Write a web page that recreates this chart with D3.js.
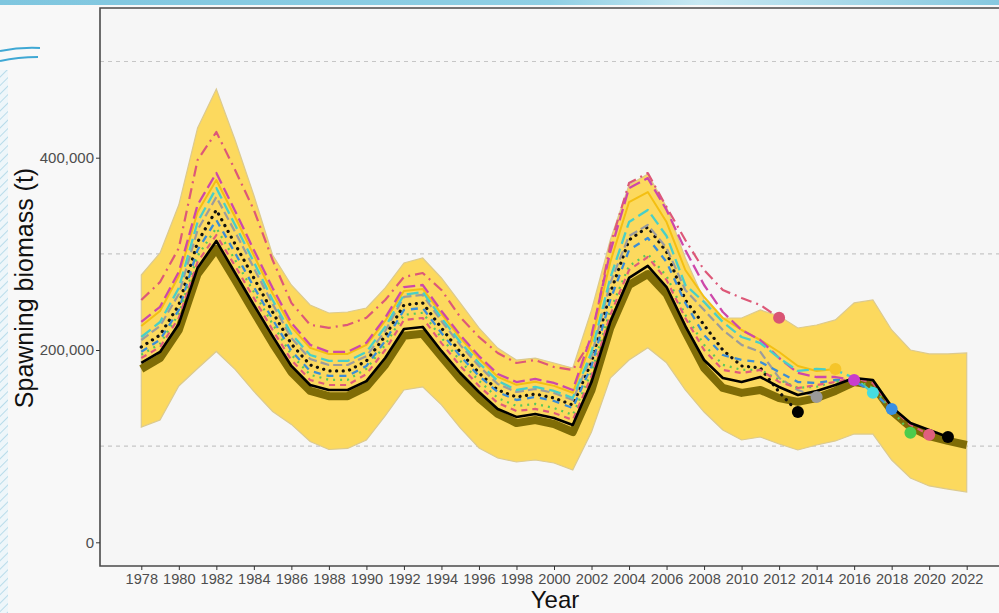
<!DOCTYPE html>
<html>
<head>
<meta charset="utf-8">
<script src="https://cdn.jsdelivr.net/npm/d3@7"></script>
<style>
  html, body { margin: 0; padding: 0; background: #f8f8f8; }
  svg { display: block; font-family: "Liberation Sans", Arial, Helvetica, sans-serif; }
</style>
</head>
<body>
<svg id="chart" width="999" height="613"></svg>
<script>
// Spawning biomass retrospective: values in thousand tonnes
const years = [1978,1979,1980,1981,1982,1983,1984,1985,1986,1987,1988,1989,1990,1991,1992,1993,1994,1995,1996,1997,
  1998,1999,2000,2001,2002,2003,2004,2005,2006,2007,2008,2009,2010,2011,2012,2013,2014,2015,2016,2017,2018,2019,2020,2021,2022];

const ciUpper = [278,301,351,431,471.4,418.4,361,298.8,267.6,246.8, 238.5,239.5,243.7,264.5,290.5,295.7,274.9,248.9,222.9,202,
  189.5,191.6,186.5,181.3,241.6,314.4,371.6,383,348.7,295.7, 252,233.3,233.3,241.6,235.4,222.9,226,231.3,249,252, 220.8,200,195.9,195.9,197];
const ciLower = [119.9,127.2,162.6,180.8,198.5,179.8,156.9,136.1,122.6,104.9, 96.5,97.6,106.4,131.4,158.4,161.6,142.9,118.9,98.1,87.7,
  83.5,85.6,82.5,75.2,114.7,170.9,189.6,202.3,186.7,158.4, 135.5,116.8,106.4,109.5,102.2,96,101.2,105.4,112.6,112.6, 85.6,66.9,58.6,55.4,52.3];

const ssb2022 = [180.3,191.7,220.8,279.0,305.0,273.0,239.5,207.0,177.0,157.4, 152.0,152.0,161.6,184.5,214.8,216.8,192.9,170.0,150.0,133.6,
  124.0,127.2,123.0,114.7,158.4,223.0,267.6,279.0,258.2,218.7, 181.3,160.6,155.4,158.4,150.0,146.0,150.0,157.4,166.7,163.6, 136.6,120.0,110.5,105.4,101.2];
const ssb2021 = [186.5,198.0,227.1,285.4,313.4,280.1,246.8,214.5,183.4,163.6, 158.4,158.4,167.7,191.7,221.9,224.0,199.0,176.1,156.3,138.7,
  130.4,133.5,129.3,122.0,166.7,229.1,275.0,287.4,265.5,224.9, 189.6,170.9,166.7,171.9,161.5,153.2,157.4,163.6,170.9,168.8, 140.7,124.1,116.8,109.5];
const ssb2020 = [191.7,203.1,233.5,291.5,319.6,287.4,254.1,220.8,189.6,168.8, 163.6,163.6,175.0,200.0,231.2,233.3,207.2,183.4,162.6,144.9,
  136.6,138.7,134.5,127.2,172.9,236.4,283.2,296.7,272.8,233.3, 200.0,179.2,176.1,179.2,166.8,160.5,163.6,166.8,170.9,165.7, 139.9,122.2,111.8];
const ssb2019 = [195.0,206.5,237.7,297.8,326.9,293.6,260.3,227.0,195.0,174.2, 169.0,169.0,180.4,205.3,236.6,238.7,212.7,188.8,168.0,150.1,
  141.8,143.9,139.7,132.4,177.1,241.6,287.4,299.8,276.9,236.6, 205.4,184.6,179.4,179.4,169.0,160.7,161.8,167.0,169.0,160.7, 137.9,114.0];
const ssb2018 = [198.1,210.6,241.6,304.0,335.2,300.9,265.5,232.0,199.0,178.2, 173.0,173.0,183.4,209.4,241.6,243.7,217.7,193.7,173.0,156.3,
  148.0,151.1,147.0,139.7,183.4,252.0,304.0,316.5,291.5,248.9, 215.6,194.8,189.6,187.5,177.1,166.7,165.7,168.8,167.7,156.3, 138.6];
const ssb2017 = [213.5,229.1,264.5,333.1,368.4,330.0,291.5,252.0,216.6,194.8, 188.6,188.6,197.9,224.0,257.3,260.4,233.3,208.3,186.5,167.8,
  158.4,161.6,157.4,150.1,197.9,274.9,333.1,345.6,318.6,267.6, 249.9,229.1,213.5,207.2,191.7,178.2,180.3,179.2,170.9,155.6];
const ssb2016 = [229.3,244.9,281.3,350.8,384.1,344.6,304.0,264.5,228.2,205.4, 198.1,198.1,207.5,233.5,265.5,267.6,240.6,215.6,193.7,175.0,
  166.7,169.9,165.7,158.4,215.6,302.0,368.4,378.8,345.6,304.0, 267.6,239.5,220.8,210.4,191.7,176.1,171.9,171.9,168.8];
const ssb2015 = [225.0,240.6,277.0,343.5,376.8,338.3,298.4,258.9,224.0,202.2, 195.9,195.9,205.3,230.2,261.4,263.5,237.5,212.6,190.8,172.1,
  163.8,166.9,162.7,155.5,208.3,291.5,353.9,364.3,333.1,283.2, 255.1,233.3,220.8,210.4,197.9,183.3,178.1,180.2];
const ssb2014 = [210.4,225.0,258.2,324.8,359.1,322.7,285.3,247.9,212.5,190.6, 184.4,184.4,193.7,219.7,255.2,257.3,230.2,205.3,183.4,164.6,
  156.3,159.4,155.3,148.0,193.7,269.7,318.6,330.0,306.1,262.4, 241.6,220.8,205.3,198.0,170.9,158.4,151.1];
const ssb2013 = [203.1,215.6,246.8,312.3,345.6,310.2,274.9,239.5,206.2,184.4, 178.2,178.2,188.6,214.6,246.8,248.9,222.9,197.9,176.1,158.4,
  151.1,154.2,150.1,142.8,187.5,259.3,314.4,327.9,301.9,252.0, 226.0,200.0,183.4,181.3,156.3,135.5];
const ssb2012 = [252.0,270.7,306.1,397.6,426.7,387.2,345.6,293.6,249.0,226.2, 223.1,226.2,233.5,252.0,275.9,280.1,262.4,234.3,213.5,196.9,
  186.5,189.6,182.3,179.2,210.4,309.2,373.6,384.0,348.7,314.4, 283.2,262.4,254.1,246.8,233.5];

const yTicks = [0, 200000, 400000];
const yGrid = [100000, 300000, 500000];
const xTicks = [1978,1980,1982,1984,1986,1988,1990,1992,1994,1996,1998,2000,2002,2004,2006,2008,2010,2012,2014,2016,2018,2020,2022];

// Drawing styles for each retrospective peel
const peels = [
  { data: ssb2012, color: "#dd5878", dot: "#d95474", dash: "11,5,2,5", w: 2.2 },
  { data: ssb2013, color: "#111111", dot: "#000000", dash: "0.1,6.5", w: 3.2, cap: "round" },
  { data: ssb2014, color: "#9c9c9c", dot: "#9a9a9a", dash: "9,4", w: 2.2 },
  { data: ssb2015, color: "#f4bf12", dot: "#f5c52a", dash: null, w: 2 },
  { data: ssb2016, color: "#cd48aa", dot: "#c93ccc", dash: "12,5", w: 2.3 },
  { data: ssb2017, color: "#48cfc8", dot: "#46dde0", dash: "12,5", w: 2.3 },
  { data: ssb2018, color: "#3b8ed6", dot: "#3a90e2", dash: "7,6", w: 2.3 },
  { data: ssb2019, color: "#5ac85a", dot: "#4ccc4c", dash: "2,5", w: 2.2 },
  { data: ssb2020, color: "#e05c7c", dot: "#e05f7e", dash: "6,5", w: 2.2 },
];

const svg = d3.select("#chart");
const W = 999, H = 613;

// Slide decoration: header strip and left ornaments
const defs = svg.append("defs");
const grad = defs.append("linearGradient").attr("id", "hdr").attr("x1", "0").attr("x2", "1");
grad.append("stop").attr("offset", "0").attr("stop-color", "#7fc6df");
grad.append("stop").attr("offset", "0.55").attr("stop-color", "#8fcfe4");
grad.append("stop").attr("offset", "0.7").attr("stop-color", "#c7e8f2");
grad.append("stop").attr("offset", "1").attr("stop-color", "#86c8df");
const pat = defs.append("pattern").attr("id", "hatch").attr("width", 6).attr("height", 6)
  .attr("patternUnits", "userSpaceOnUse").attr("patternTransform", "rotate(45)");
pat.append("rect").attr("width", 6).attr("height", 6).attr("fill", "#eef6fa");
pat.append("line").attr("x1", 0).attr("y1", 0).attr("x2", 0).attr("y2", 6).attr("stroke", "#b9dcea").attr("stroke-width", 2);

svg.append("rect").attr("width", W).attr("height", H).attr("fill", "#f8f8f8");
svg.append("rect").attr("x", 0).attr("y", 0).attr("width", W).attr("height", 5).attr("fill", "url(#hdr)");
svg.append("rect").attr("x", 0).attr("y", 70).attr("width", 8).attr("height", H - 70).attr("fill", "url(#hatch)");
svg.append("path").attr("d", "M0,51 Q20,47 40,48").attr("fill", "none").attr("stroke", "#3fa8d4").attr("stroke-width", 2);
svg.append("path").attr("d", "M0,61 Q18,57 38,57").attr("fill", "none").attr("stroke", "#3fa8d4").attr("stroke-width", 2);

// Scales
const x = d3.scaleLinear().domain([1978, 2022]).range([141.3, 966.7]);
const y = d3.scaleLinear().domain([0, 400000]).range([542.3, 157.7]);

const panel = { left: 100, top: 8, right: 1010, bottom: 566 };

svg.append("rect").attr("x", panel.left).attr("y", panel.top)
  .attr("width", panel.right - panel.left).attr("height", panel.bottom - panel.top)
  .attr("fill", "#f6f6f6");

// Dashed grid lines
svg.append("g").selectAll("line").data(yGrid).join("line")
  .attr("x1", panel.left).attr("x2", panel.right)
  .attr("y1", d => y(d)).attr("y2", d => y(d))
  .attr("stroke", "#c6c6c6").attr("stroke-width", 1.1).attr("stroke-dasharray", "4,4");

const plot = svg.append("g");

// Confidence band
const area = d3.area()
  .x((d, i) => x(years[i]))
  .y0((d, i) => y(ciLower[i] * 1000))
  .y1((d, i) => y(ciUpper[i] * 1000));
plot.append("path").datum(ciUpper).attr("d", area)
  .attr("fill", "#fcd95e").attr("stroke", "#dcca8e").attr("stroke-width", 1.2);

const line = d3.line().x((d, i) => x(years[i])).y(d => y(d * 1000));

// Current assessment (thick)
plot.append("path").datum(ssb2022).attr("d", line)
  .attr("fill", "none").attr("stroke", "#7f6c06").attr("stroke-width", 8).attr("stroke-linejoin", "round");

// Retrospective peels
peels.forEach(p => {
  plot.append("path").datum(p.data).attr("d", line)
    .attr("fill", "none").attr("stroke", p.color).attr("stroke-width", p.w)
    .attr("stroke-dasharray", p.dash).attr("stroke-linecap", p.cap || "butt")
    .attr("stroke-linejoin", "round");
});

// Most recent peel
plot.append("path").datum(ssb2021).attr("d", line)
  .attr("fill", "none").attr("stroke", "#000").attr("stroke-width", 2.6).attr("stroke-linejoin", "round");

// Terminal-year points
const terminals = peels.map(p => ({ yr: years[p.data.length - 1], v: p.data[p.data.length - 1], c: p.dot }))
  .concat([{ yr: years[ssb2021.length - 1], v: ssb2021[ssb2021.length - 1], c: "#000" }]);
plot.append("g").selectAll("circle").data(terminals).join("circle")
  .attr("cx", d => x(d.yr)).attr("cy", d => y(d.v * 1000)).attr("r", 6)
  .attr("fill", d => d.c);

// Panel frame (left, top, bottom)
svg.append("path")
  .attr("d", `M${panel.right},${panel.top}H${panel.left}V${panel.bottom}H${panel.right}`)
  .attr("fill", "none").attr("stroke", "#4a4a4a").attr("stroke-width", 1.6);

// Axes
const yAxis = svg.append("g").attr("transform", `translate(${panel.left},0)`)
  .call(d3.axisLeft(y).tickValues(yTicks).tickSize(4).tickPadding(2).tickFormat(d3.format(",")));
yAxis.select(".domain").remove();
yAxis.selectAll("line").attr("stroke", "#333");
yAxis.selectAll("text").attr("fill", "#4d4d4d").style("font-size", "15px");

const xAxis = svg.append("g").attr("transform", `translate(0,${panel.bottom})`)
  .call(d3.axisBottom(x).tickValues(xTicks).tickSize(4).tickPadding(4).tickFormat(d3.format("d")));
xAxis.select(".domain").remove();
xAxis.selectAll("line").attr("stroke", "#333");
xAxis.selectAll("text").attr("fill", "#4d4d4d").style("font-size", "14.6px");

// Axis titles
svg.append("text").attr("x", 555).attr("y", 608).attr("text-anchor", "middle")
  .style("font-size", "24px").attr("fill", "#111").text("Year");
svg.append("text").attr("transform", "translate(33,288) rotate(-90)").attr("text-anchor", "middle")
  .style("font-size", "25px").attr("fill", "#111").text("Spawning biomass (t)");
</script>
</body>
</html>
